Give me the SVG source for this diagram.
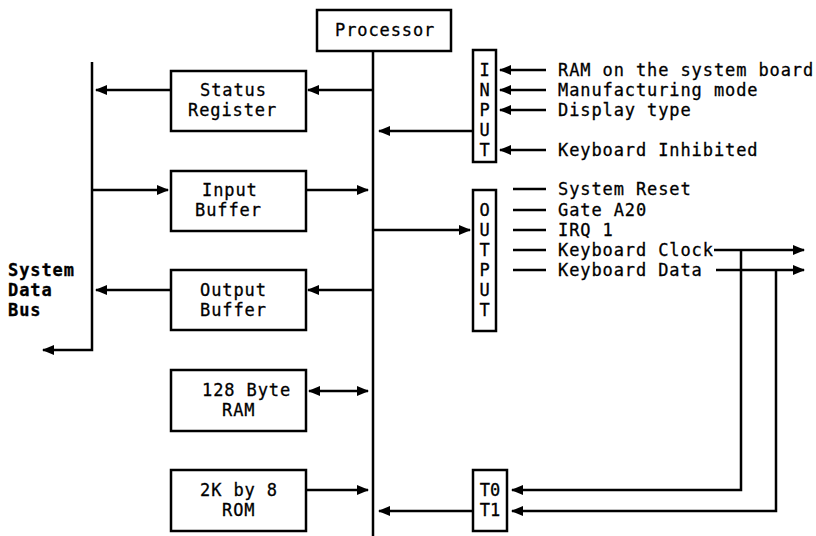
<svg xmlns="http://www.w3.org/2000/svg" width="816" height="536" viewBox="0 0 816 536">
<style>
.box{fill:#fff;stroke:#000;stroke-width:2.5}
.ln{fill:none;stroke:#000;stroke-width:2.5}
.ar{marker-end:url(#ah)}
.t{font-family:"DejaVu Sans Mono","Liberation Mono",monospace;font-size:17px;letter-spacing:0.9px;fill:#000;stroke:#000;stroke-width:0.3}
.c{text-anchor:middle;letter-spacing:0}
.b{font-weight:bold}
</style>
<defs>
<marker id="ah" markerUnits="userSpaceOnUse" markerWidth="12" markerHeight="10" refX="11" refY="5" orient="auto-start-reverse">
<path d="M0,0 L12,5 L0,10 z" fill="#000"/>
</marker>
</defs>
<rect width="816" height="536" fill="#fff"/>
<g id="connectors">
<line class="ln" x1="373" y1="51" x2="373" y2="536"/>
<polyline class="ln ar" points="92,62 92,350 43,350"/>
<line class="ln ar" x1="373" y1="90" x2="308" y2="90"/>
<line class="ln ar" x1="171" y1="90" x2="96" y2="90"/>
<line class="ln ar" x1="92" y1="190" x2="168" y2="190"/>
<line class="ln ar" x1="306" y1="190" x2="368" y2="190"/>
<line class="ln ar" x1="373" y1="290" x2="308" y2="290"/>
<line class="ln ar" x1="171" y1="290" x2="96" y2="290"/>
<line class="ln ar" x1="309" y1="391" x2="368" y2="391" marker-start="url(#ah)"/>
<line class="ln ar" x1="306" y1="490" x2="368" y2="490"/>
<line class="ln ar" x1="473" y1="131" x2="379" y2="131"/>
<line class="ln ar" x1="373" y1="230" x2="470" y2="230"/>
<line class="ln ar" x1="546" y1="70" x2="500" y2="70"/>
<line class="ln ar" x1="546" y1="90" x2="500" y2="90"/>
<line class="ln ar" x1="546" y1="110" x2="500" y2="110"/>
<line class="ln ar" x1="546" y1="150" x2="500" y2="150"/>
<line class="ln" x1="513" y1="189" x2="546" y2="189"/>
<line class="ln" x1="513" y1="210" x2="546" y2="210"/>
<line class="ln" x1="513" y1="230" x2="546" y2="230"/>
<line class="ln" x1="513" y1="250" x2="546" y2="250"/>
<line class="ln" x1="513" y1="270" x2="546" y2="270"/>
<line class="ln ar" x1="714" y1="250" x2="804" y2="250"/>
<line class="ln ar" x1="716" y1="270" x2="804" y2="270"/>
<polyline class="ln ar" points="741,250 741,490 512,490"/>
<polyline class="ln ar" points="776,270 776,511 512,511"/>
<line class="ln ar" x1="473" y1="511" x2="379" y2="511"/>
</g>
<g id="processor">
<rect class="box" x="317" y="10" width="134" height="41"/>
<text class="t" x="335" y="36">Processor</text>
</g>
<g id="status-register">
<rect class="box" x="171" y="71" width="135" height="60"/>
<text class="t" x="200" y="96">Status</text>
<text class="t" x="188" y="116">Register</text>
</g>
<g id="input-buffer">
<rect class="box" x="171" y="171" width="135" height="60"/>
<text class="t" x="202" y="196">Input</text>
<text class="t" x="195" y="216">Buffer</text>
</g>
<g id="output-buffer">
<rect class="box" x="171" y="270" width="135" height="60"/>
<text class="t" x="200" y="296">Output</text>
<text class="t" x="200" y="316">Buffer</text>
</g>
<g id="ram">
<rect class="box" x="171" y="370" width="135" height="61"/>
<text class="t" x="202" y="396">128 Byte</text>
<text class="t" x="222" y="416">RAM</text>
</g>
<g id="rom">
<rect class="box" x="171" y="470" width="135" height="61"/>
<text class="t" x="200" y="496">2K by 8</text>
<text class="t" x="222" y="516">ROM</text>
</g>
<g id="input-port">
<rect class="box" x="473" y="50" width="23" height="112"/>
<text class="t c" x="484.5" y="76">I</text>
<text class="t c" x="484.5" y="96">N</text>
<text class="t c" x="484.5" y="116">P</text>
<text class="t c" x="484.5" y="136">U</text>
<text class="t c" x="484.5" y="156">T</text>
</g>
<g id="output-port">
<rect class="box" x="473" y="190" width="23" height="141"/>
<text class="t c" x="484.5" y="216">O</text>
<text class="t c" x="484.5" y="236">U</text>
<text class="t c" x="484.5" y="256">T</text>
<text class="t c" x="484.5" y="276">P</text>
<text class="t c" x="484.5" y="296">U</text>
<text class="t c" x="484.5" y="316">T</text>
</g>
<g id="test-inputs">
<rect class="box" x="473" y="470" width="34" height="61"/>
<text class="t c" x="490" y="496">T0</text>
<text class="t c" x="490" y="516">T1</text>
</g>
<g id="system-data-bus">
<text class="t b" x="8" y="276">System</text>
<text class="t b" x="8" y="296">Data</text>
<text class="t b" x="8" y="316">Bus</text>
</g>
<g id="signal-labels">
<text class="t" x="558" y="76">RAM on the system board</text>
<text class="t" x="558" y="96">Manufacturing mode</text>
<text class="t" x="558" y="116">Display type</text>
<text class="t" x="558" y="156">Keyboard Inhibited</text>
<text class="t" x="558" y="195">System Reset</text>
<text class="t" x="558" y="216">Gate A20</text>
<text class="t" x="558" y="236">IRQ 1</text>
<text class="t" x="558" y="256">Keyboard Clock</text>
<text class="t" x="558" y="276">Keyboard Data</text>
</g>
</svg>
